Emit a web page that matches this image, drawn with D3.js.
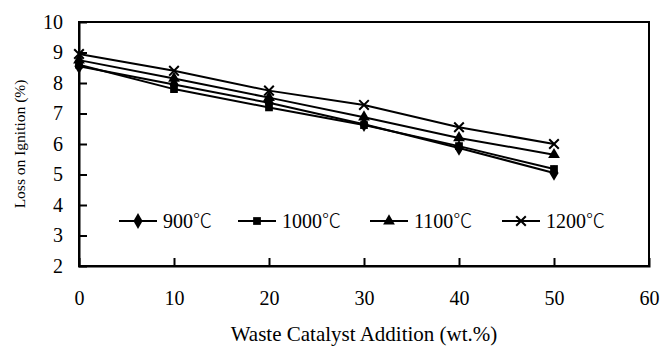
<!DOCTYPE html>
<html>
<head>
<meta charset="utf-8">
<script src="https://cdn.jsdelivr.net/npm/d3@7"></script>
<style>
  html, body { margin: 0; padding: 0; background: #fff; }
  svg { display: block; font-family: "Liberation Serif", "Times New Roman", serif; }
</style>
</head>
<body>
<svg id="chart" width="663" height="347"></svg>
<script>
// Loss on ignition vs. waste catalyst addition, one series per firing temperature
const additions = [0, 10, 20, 30, 40, 50];
const loss900  = [8.55, 7.95, 7.35, 6.65, 5.87, 5.05];
const loss1000 = [8.6, 7.8, 7.2, 6.62, 5.93, 5.18];
const loss1100 = [8.75, 8.15, 7.52, 6.88, 6.2, 5.65];
const loss1200 = [8.95, 8.4, 7.75, 7.28, 6.55, 6.0];
const seriesTemps = ["900", "1000", "1100", "1200"];
const xTicks = [0, 10, 20, 30, 40, 50, 60];
const yTicks = [2, 3, 4, 5, 6, 7, 8, 9, 10];

const series = [
  { name: seriesTemps[0], values: loss900,  symbol: d3.symbolDiamond, size: 72 },
  { name: seriesTemps[1], values: loss1000, symbol: d3.symbolSquare,  size: 60 },
  { name: seriesTemps[2], values: loss1100, symbol: d3.symbolTriangle, size: 60 },
  { name: seriesTemps[3], values: loss1200, symbol: "cross", size: 4.8 }
];

const svg = d3.select("#chart");
const plotL = 79, plotR = 649, plotT = 22, plotB = 266;

const x = d3.scaleLinear().domain([0, 60]).range([plotL, plotR]);
const y = d3.scaleLinear().domain([2, 10]).range([plotB, plotT]);

// plot frame
svg.append("rect")
  .attr("x", plotL).attr("y", plotT)
  .attr("width", plotR - plotL).attr("height", plotB - plotT)
  .attr("fill", "none").attr("stroke", "#000").attr("stroke-width", 2);

// axes with inward ticks
const xAxis = svg.append("g").attr("transform", `translate(0,${plotB})`)
  .call(d3.axisBottom(x).tickValues(xTicks).tickSize(-8).tickPadding(25).tickFormat(d3.format("d")));
const yAxis = svg.append("g").attr("transform", `translate(${plotL},0)`)
  .call(d3.axisLeft(y).tickValues(yTicks).tickSize(-8).tickPadding(16).tickFormat(d3.format("d")));
[xAxis, yAxis].forEach(g => {
  g.select(".domain").attr("stroke", "#000").attr("stroke-width", 2);
  g.selectAll(".tick line").attr("stroke", "#000").attr("stroke-width", 2);
  g.selectAll(".tick text").attr("fill", "#000")
    .style("font-family", "'Liberation Serif', serif").style("font-size", "20px");
});
xAxis.selectAll(".tick line").filter(d => d === 0 || d === 60).remove();
yAxis.selectAll(".tick line").filter(d => d === 2 || d === 10).remove();

// axis titles
svg.append("text")
  .attr("x", 364).attr("y", 341)
  .attr("text-anchor", "middle")
  .style("font-size", "21px")
  .text("Waste Catalyst Addition (wt.%)");
svg.append("text")
  .attr("transform", "translate(21,144) rotate(-90)")
  .attr("text-anchor", "middle")
  .attr("dominant-baseline", "middle")
  .style("font-size", "15.5px")
  .text("Loss on Ignition (%)");

const line = d3.line().x((d, i) => x(additions[i])).y(d => y(d));

function drawMarker(g, s, cx, cy) {
  if (s.symbol === "cross") {
    const r = s.size;
    g.append("path")
      .attr("d", `M${cx - r},${cy - r}L${cx + r},${cy + r}M${cx - r},${cy + r}L${cx + r},${cy - r}`)
      .attr("stroke", "#000").attr("stroke-width", 2).attr("fill", "none");
  } else {
    g.append("path")
      .attr("transform", `translate(${cx},${cy})`)
      .attr("d", d3.symbol().type(s.symbol).size(s.size)())
      .attr("fill", "#000");
  }
}

series.forEach(s => {
  const g = svg.append("g");
  g.append("path")
    .datum(s.values)
    .attr("d", line)
    .attr("fill", "none").attr("stroke", "#000").attr("stroke-width", 2);
  s.values.forEach((v, i) => drawMarker(g, s, x(additions[i]), y(v)));
});

// legend
const legendX = [119, 238, 370, 502];
const legendY = 221;
series.forEach((s, i) => {
  const g = svg.append("g");
  const x0 = legendX[i];
  g.append("line")
    .attr("x1", x0).attr("x2", x0 + 38)
    .attr("y1", legendY).attr("y2", legendY)
    .attr("stroke", "#000").attr("stroke-width", 2);
  drawMarker(g, s, x0 + 19, legendY);
  const t = g.append("text")
    .attr("x", x0 + 44).attr("y", legendY + 7)
    .style("font-size", "20px");
  t.append("tspan").text(s.name);
  t.append("tspan")
    .style("font-family", "'Noto Sans CJK SC', sans-serif")
    .style("font-weight", "300")
    .style("font-size", "19px")
    .text("℃");
});
</script>
</body>
</html>
